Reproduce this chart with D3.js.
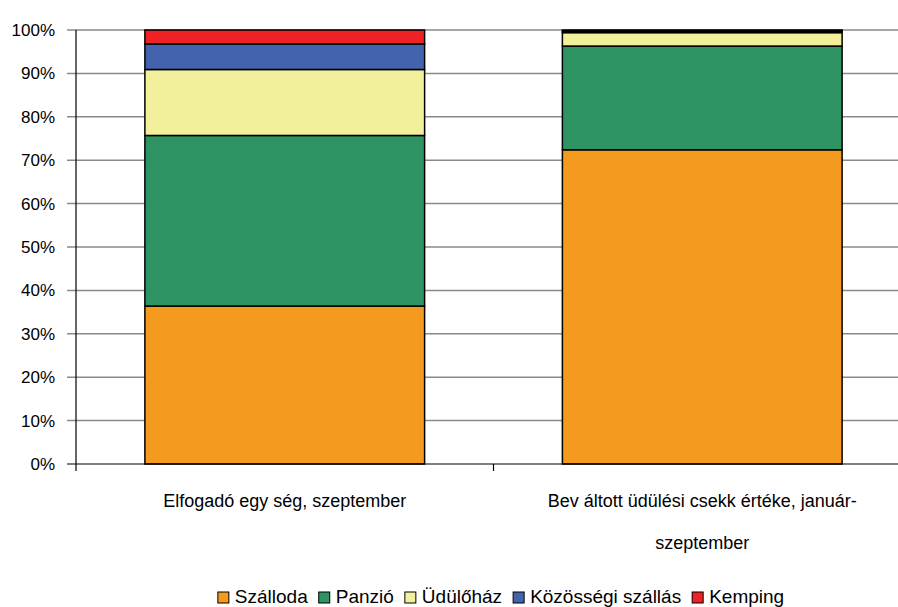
<!DOCTYPE html>
<html>
<head>
<meta charset="utf-8">
<script src="https://cdn.jsdelivr.net/npm/d3@7"></script>
<style>
  body { margin: 0; background: #fff; }
  text { font-family: "Liberation Sans", Arial, sans-serif; fill: #000; }
</style>
</head>
<body>
<svg id="chart" width="898" height="607"></svg>
<script>
// data (percent of total)
const categories = ["Elfogadó egység, szeptember", "Beváltott üdülési csekk értéke, január-szeptember"];
const categoryLines = [["Elfogadó egy ség, szeptember"], ["Bev áltott üdülési csekk értéke, január-", "szeptember"]];
const seriesNames = ["Szálloda", "Panzió", "Üdülőház", "Közösségi szállás", "Kemping"];
const seriesColors = ["#F39A1F", "#2F9464", "#F3F09C", "#4364AD", "#EE2225"];
const szalloda = [36.4, 72.4];
const panzio = [39.3, 23.9];
const udulohaz = [15.2, 3.1];
const kozossegi = [5.9, 0.3];
const kemping = [3.2, 0.3];
const yTicks = [0, 10, 20, 30, 40, 50, 60, 70, 80, 90, 100];

const svg = d3.select("#chart");
const plotLeft = 76, plotRight = 911, plotTop = 30, plotBottom = 464;

const x = d3.scaleBand().domain(categories).range([plotLeft, plotRight]).padding(0);
const y = d3.scaleLinear().domain([0, 100]).range([plotBottom, plotTop]);

// gridlines
svg.append("g")
    .selectAll("line")
    .data(yTicks.slice(1))
    .join("line")
    .attr("x1", plotLeft - 9)
    .attr("x2", 898)
    .attr("y1", d => y(d))
    .attr("y2", d => y(d))
    .attr("stroke", "#8a8a8a")
    .attr("stroke-width", 1.5);

// y labels
svg.append("g")
    .selectAll("text")
    .data(yTicks)
    .join("text")
    .attr("x", 55)
    .attr("y", d => y(d) + 6)
    .attr("text-anchor", "end")
    .style("font-size", "17px")
    .text(d => d + "%");

// stacked bars
const rows = categories.map((c, i) => ({
    cat: c,
    "Szálloda": szalloda[i],
    "Panzió": panzio[i],
    "Üdülőház": udulohaz[i],
    "Közösségi szállás": kozossegi[i],
    "Kemping": kemping[i]
}));
const stack = d3.stack().keys(seriesNames)(rows);
const barW = x.bandwidth() * 0.67;

stack.forEach((layer, k) => {
    svg.append("g")
        .selectAll("rect")
        .data(layer)
        .join("rect")
        .attr("x", d => x(d.data.cat) + (x.bandwidth() - barW) / 2)
        .attr("width", barW)
        .attr("y", d => y(d[1]))
        .attr("height", d => y(d[0]) - y(d[1]))
        .attr("fill", seriesColors[k])
        .attr("stroke", "#000")
        .attr("stroke-width", 1.5);
});

// axes
svg.append("line")
    .attr("x1", plotLeft).attr("x2", plotLeft)
    .attr("y1", plotTop).attr("y2", plotBottom + 7)
    .attr("stroke", "#000").attr("stroke-width", 1.2);
svg.append("line")
    .attr("x1", plotLeft - 9).attr("x2", 898)
    .attr("y1", plotBottom).attr("y2", plotBottom)
    .attr("stroke", "#000").attr("stroke-width", 1.2);
svg.append("line")
    .attr("x1", x(categories[1])).attr("x2", x(categories[1]))
    .attr("y1", plotBottom).attr("y2", plotBottom + 7)
    .attr("stroke", "#000").attr("stroke-width", 1.2);

// category labels
categories.forEach((c, i) => {
    categoryLines[i].forEach((line, j) => {
        svg.append("text")
            .attr("x", x(c) + x.bandwidth() / 2)
            .attr("y", 507 + j * 42)
            .attr("text-anchor", "middle")
            .style("font-size", "18px")
            .text(line);
    });
});

// legend
const legend = svg.append("g");
let lx = 0;
seriesNames.forEach((name, k) => {
    const g = legend.append("g").attr("transform", "translate(" + lx + ",0)");
    g.append("rect")
        .attr("x", 0).attr("y", -11)
        .attr("width", 11).attr("height", 11)
        .attr("fill", seriesColors[k])
        .attr("stroke", "#000")
        .attr("stroke-width", 1);
    const t = g.append("text")
        .attr("x", 17).attr("y", 0)
        .style("font-size", "19px")
        .text(name);
    lx += 17 + t.node().getComputedTextLength() + 11;
});
lx -= 11;
legend.attr("transform", "translate(" + (501 - lx / 2) + ",603)");
</script>
</body>
</html>
